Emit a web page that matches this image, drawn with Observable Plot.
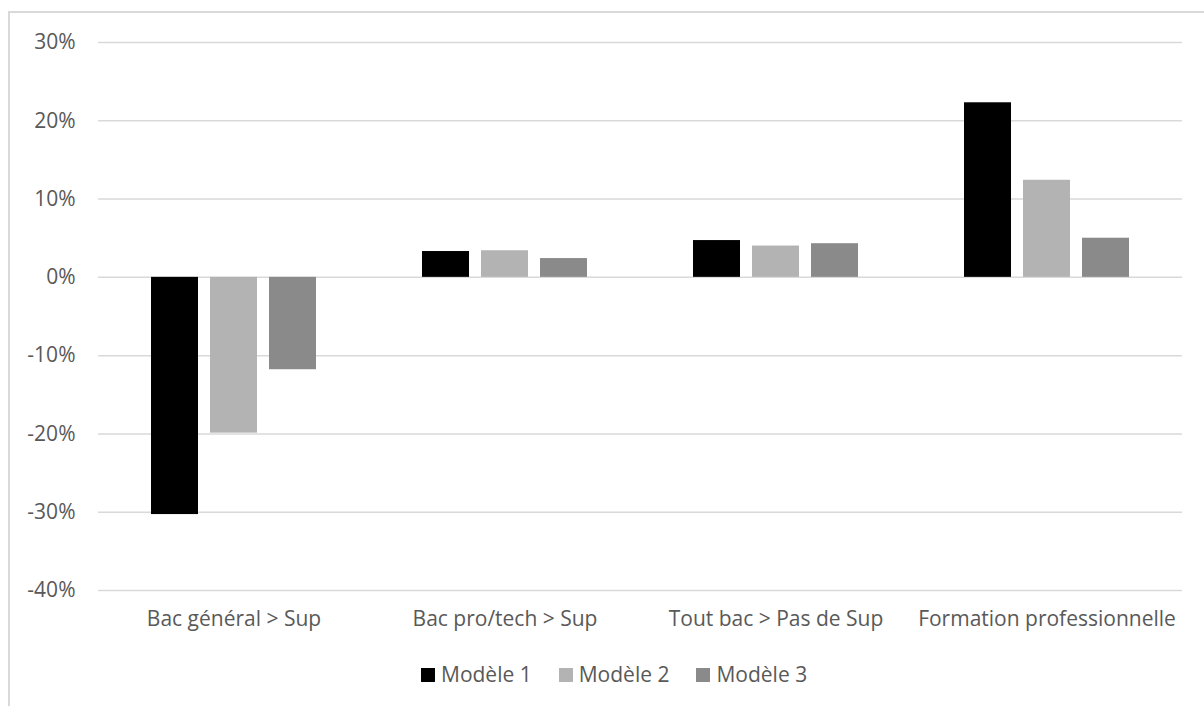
<!DOCTYPE html>
<html>
<head>
<meta charset="utf-8">
<script src="https://cdn.jsdelivr.net/npm/d3@7"></script>
<script src="https://cdn.jsdelivr.net/npm/@observablehq/plot@0.6"></script>
<style>
  html, body { margin: 0; padding: 0; background: #fff; }
  #wrap { position: relative; width: 1204px; height: 706px; overflow: hidden; font-family: "Open Sans", Lato, sans-serif; }
  #frame { position: absolute; left: 8px; top: 11px; width: 1300px; height: 800px; border-left: 2px solid #d9d9d9; border-top: 2px solid #d9d9d9; box-sizing: border-box; }
  #chart { position: absolute; left: 0; top: 0; }
  #legend { position: absolute; left: 421px; top: 660px; display: flex; align-items: center; font-size: 21px; color: #595959; }
  .item { display: flex; align-items: center; margin-right: 27px; }
  .sw { width: 14px; height: 14px; margin-right: 6px; margin-top: 1px; }
</style>
</head>
<body>
<div id="wrap">
  <div id="frame"></div>
  <div id="chart"></div>
  <div id="legend"></div>
</div>
<script>
const categories = ["Bac général > Sup", "Bac pro/tech > Sup", "Tout bac > Pas de Sup", "Formation professionnelle"];
const series = ["Modèle 1", "Modèle 2", "Modèle 3"];
const modele1 = [-30.3, 3.3, 4.7, 22.3];
const modele2 = [-19.9, 3.4, 4.0, 12.4];
const modele3 = [-11.8, 2.4, 4.3, 5.0];
const yTicks = [-40, -30, -20, -10, 0, 10, 20, 30];
const colors = ["#000000", "#b3b3b3", "#8a8a8a"];

const valuesBySeries = [modele1, modele2, modele3];
const data = [];
categories.forEach((c, i) => {
  series.forEach((s, j) => data.push({category: c, series: s, value: valuesBySeries[j][i]}));
});

const chart = Plot.plot({
  width: 1204,
  height: 640,
  marginLeft: 97,
  marginRight: 22,
  marginTop: 42,
  marginBottom: 50,
  style: {fontFamily: "'Open Sans', Lato, sans-serif", fontSize: "21px", color: "#595959", background: "transparent"},
  fx: {domain: categories, padding: 0, label: null},
  x: {domain: series, paddingInner: 0.2083, paddingOuter: 0.8646, axis: null},
  y: {domain: [-40, 30], ticks: yTicks, label: null},
  color: {domain: series, range: colors},
  marks: [
    Plot.gridY(yTicks, {stroke: "#d9d9d9", strokeOpacity: 1, strokeWidth: 1.5}),
    Plot.barY(data, {fx: "category", x: "series", y: "value", fill: "series"}),
    Plot.axisY(yTicks, {tickSize: 0, tickPadding: 23, tickFormat: d => d + "%", fill: "#595959", fontSize: 21, label: null}),
    Plot.axisFx({anchor: "bottom", tickSize: 0, tickPadding: 21, fill: "#595959", fontSize: 21, label: null})
  ]
});
document.getElementById("chart").appendChild(chart);

const legend = document.getElementById("legend");
series.forEach((s, j) => {
  const it = document.createElement("div");
  it.className = "item";
  const sw = document.createElement("div");
  sw.className = "sw";
  sw.style.background = colors[j];
  const t = document.createElement("span");
  t.textContent = s;
  it.appendChild(sw);
  it.appendChild(t);
  legend.appendChild(it);
});
</script>
</body>
</html>
